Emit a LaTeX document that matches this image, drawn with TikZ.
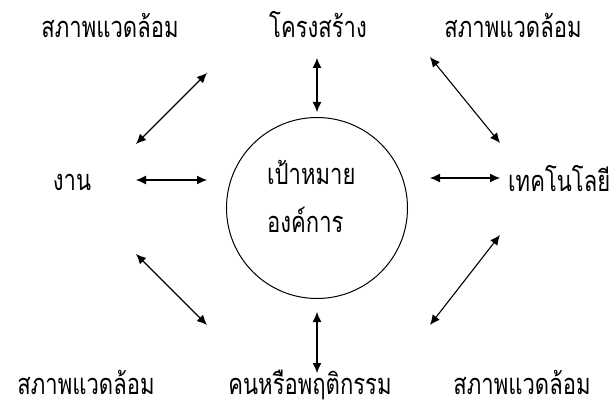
\documentclass[tikz,border=0pt]{standalone}
\usepackage{fontspec}
\newfontfamily\thaifont[Script=Thai,FakeStretch=0.76]{Loma}
\usetikzlibrary{arrows.meta}

\begin{document}
\begin{tikzpicture}[
  x=1pt, y=-1pt,
  font=\thaifont\fontsize{29}{34}\selectfont,
  >={Latex[length=10pt,width=9pt]},
  lbl/.style={inner sep=0pt, anchor=base},
  goal/.style={draw, circle, line width=1pt, minimum size=181pt, inner sep=0pt},
  link/.style={<->, line width=1.1pt},
]
\useasboundingbox (0,0) rectangle (614,409);

% ---- centre circle
\node[goal] (goal) at (317,208) {};
\node[lbl, anchor=base west] (goalA) at (267,185) {เป้าหมาย};
\node[lbl, anchor=base west] (goalB) at (267,233) {องค์การ};

% ---- labels round it
\node[lbl] (envTL) at (110,38) {สภาพแวดล้อม};
\node[lbl] (struct) at (318,38) {โครงสร้าง};
\node[lbl] (envTR) at (513,38) {สภาพแวดล้อม};
\node[lbl] (task) at (72,191) {งาน};
\node[lbl, anchor=base west] (tech) at (508,192) {เทคโนโลยี};
\node[lbl] (envBL) at (86,394) {สภาพแวดล้อม};
\node[lbl] (people) at (310,394) {คนหรือพฤติกรรม};
\node[lbl] (envBR) at (522,394) {สภาพแวดล้อม};

% ---- arrow ends
\coordinate (tA) at (317,58);   \coordinate (tB) at (317,112);
\coordinate (bA) at (317,312);  \coordinate (bB) at (317,373);
\coordinate (lA) at (136,180);  \coordinate (lB) at (207,180);
\coordinate (rA) at (430,178);  \coordinate (rB) at (500,178);
\coordinate (ulA) at (136,144); \coordinate (ulB) at (207,73);
\coordinate (urA) at (430,57);  \coordinate (urB) at (500,143);
\coordinate (llA) at (136,254); \coordinate (llB) at (207,325);
\coordinate (lrA) at (500,235); \coordinate (lrB) at (430,325);

\draw[link] (tA) -- (tB);
\draw[link] (bA) -- (bB);
\draw[link] (lA) -- (lB);
\draw[link] (rA) -- (rB);
\draw[link] (ulA) -- (ulB);
\draw[link] (urA) -- (urB);
\draw[link] (llA) -- (llB);
\draw[link] (lrA) -- (lrB);
\end{tikzpicture}
\end{document}
